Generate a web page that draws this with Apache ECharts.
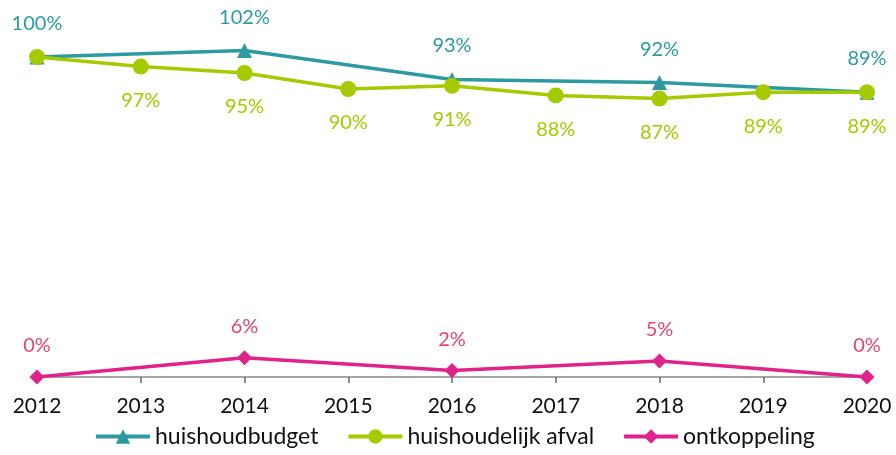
<!DOCTYPE html>
<html>
<head>
<meta charset="utf-8">
<script src="https://cdn.jsdelivr.net/npm/echarts@6/dist/echarts.min.js"></script>
<style>
  html, body { margin: 0; padding: 0; background: #fff; }
  #chart { width: 896px; height: 455px; }
</style>
</head>
<body>
<div id="chart"></div>
<script>
const years = ['2012', '2013', '2014', '2015', '2016', '2017', '2018', '2019', '2020'];
const huishoudbudget = [100, null, 102, null, 93, null, 92, null, 89];
const huishoudelijkAfval = [100, 97, 95, 90, 91, 88, 87, 89, 89];
const ontkoppeling = [0, null, 6, null, 2, null, 5, null, 0];
// the 2012 label of huishoudelijk afval is not shown in the original
const afvalHiddenLabels = ['2012'];

const font = 'Lato, "Open Sans", sans-serif';
const teal = '#2C9AA0';
const green = '#A6CA00';
const pink = '#E0238A';

const chart = echarts.init(document.getElementById('chart'));

function lineSeries(name, data, color, labelColor, symbol, pos, size, dist, hidden) {
  return {
    name: name,
    type: 'line',
    data: data.map((v, i) => (hidden && hidden.includes(years[i]))
      ? { value: v, label: { show: false } } : v),
    connectNulls: true,
    clip: false,
    symbol: symbol,
    symbolSize: size,
    showAllSymbol: true,
    lineStyle: { color: color, width: 3.5 },
    itemStyle: { color: color },
    label: {
      show: true,
      position: pos,
      distance: dist,
      color: labelColor,
      fontFamily: font,
      fontSize: 20,
      formatter: p => p.value + '%'
    }
  };
}

chart.setOption({
  animation: false,
  grid: { left: 37, right: 29, top: 57, bottom: 78 },
  legend: {
    bottom: 2,
    left: 89,
    itemGap: 28,
    itemWidth: 54,
    itemHeight: 18,
    lineStyle: { width: 4 },
    textStyle: { fontFamily: font, fontSize: 23, color: '#111' },
    data: ['huishoudbudget', 'huishoudelijk afval', 'ontkoppeling']
  },
  xAxis: {
    type: 'category',
    data: years,
    boundaryGap: false,
    axisLine: { lineStyle: { color: '#888', width: 1.5 } },
    axisTick: { show: true, length: 6, lineStyle: { color: '#666', width: 1.5 } },
    axisLabel: { color: '#111', fontFamily: font, fontSize: 21, margin: 19 }
  },
  yAxis: {
    type: 'value',
    min: 0,
    max: 100,
    show: false,
    splitLine: { show: false }
  },
  series: [
    lineSeries('huishoudbudget', huishoudbudget, teal, teal, 'triangle', 'top', 15, 16),
    lineSeries('huishoudelijk afval', huishoudelijkAfval, green, green, 'circle', 'bottom', 16, 16, afvalHiddenLabels),
    lineSeries('ontkoppeling', ontkoppeling, pink, '#E2466E', 'diamond', 'top', 15, 14)
  ]
});
</script>
</body>
</html>
